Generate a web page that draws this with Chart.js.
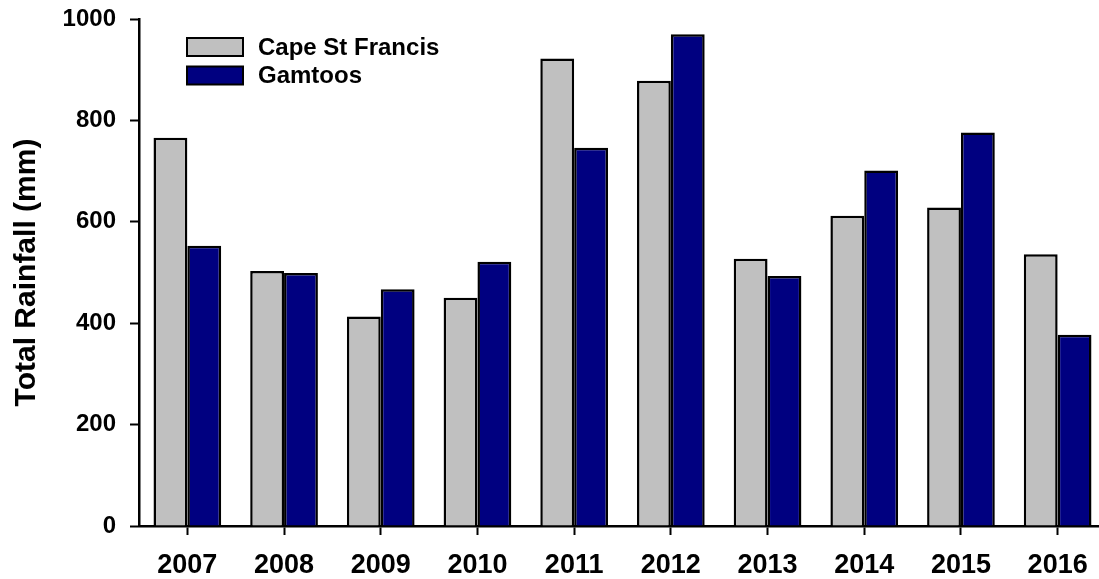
<!DOCTYPE html>
<html>
<head>
<meta charset="utf-8">
<script src="https://cdn.jsdelivr.net/npm/chart.js@4"></script>
<style>
  html, body { margin: 0; padding: 0; background: #fff; overflow: hidden; }
  #wrap { position: relative; width: 1106px; height: 579px; }
</style>
</head>
<body>
<div id="wrap"><canvas id="c"></canvas></div>
<script>
const years = ["2007","2008","2009","2010","2011","2012","2013","2014","2015","2016"];
const capeStFrancis = [766, 503, 413, 450, 922, 878, 527, 612, 628, 536];
const gamtoos = [553, 499, 467, 521, 746, 970, 493, 701, 776, 377];
const seriesNames = ["Cape St Francis", "Gamtoos"];
const yTicks = [0, 200, 400, 600, 800, 1000];

const FONT = "'Liberation Sans', Arial, sans-serif";

const legendPlugin = {
  id: 'insideLegend',
  afterDraw(chart) {
    const ctx = chart.ctx;
    ctx.save();
    const x0 = 187, bw = 56, bh = 18;
    const ys = [38, 66.5];
    chart.data.datasets.forEach((ds, i) => {
      ctx.fillStyle = ds.backgroundColor;
      ctx.fillRect(x0, ys[i], bw, bh);
      ctx.lineWidth = 2;
      ctx.strokeStyle = '#000';
      ctx.strokeRect(x0, ys[i], bw, bh);
      ctx.fillStyle = '#000';
      ctx.font = "bold 24px " + FONT;
      ctx.textBaseline = 'middle';
      ctx.textAlign = 'left';
      ctx.fillText(ds.label, 258, ys[i] + bh / 2 + 1);
    });
    ctx.restore();
  }
};

new Chart(document.getElementById('c'), {
  type: 'bar',
  data: {
    labels: years,
    datasets: [
      { label: seriesNames[0], data: capeStFrancis, backgroundColor: '#C0C0C0', borderColor: '#000', borderWidth: 2.5 },
      { label: seriesNames[1], data: gamtoos, backgroundColor: '#000080', borderColor: '#000', borderWidth: 2.5 }
    ]
  },
  options: {
    responsive: true,
    maintainAspectRatio: false,
    animation: false,
    devicePixelRatio: 1,
    layout: { padding: { top: 19, left: 0, right: 0, bottom: 0 } },
    plugins: { legend: { display: false }, tooltip: { enabled: false } },
    datasets: { bar: { categoryPercentage: 0.7, barPercentage: 1.0 } },
    scales: {
      x: {
        offset: true,
        grid: { display: true, drawOnChartArea: false, offset: false, tickLength: 9, tickWidth: 2, tickColor: '#000' },
        border: { display: true, color: '#000', width: 2.5 },
        ticks: { color: '#000', font: { family: FONT, size: 27, weight: 'bold' }, padding: 14, maxRotation: 0 },
        afterFit(scale) { scale.height = 53; scale.paddingLeft = 0; scale.paddingRight = 0; }
      },
      y: {
        min: 0, max: 1000,
        afterBuildTicks(scale) { scale.ticks = yTicks.map(v => ({ value: v })); },
        grid: { display: true, drawOnChartArea: false, tickLength: 9, tickWidth: 2, tickColor: '#000' },
        border: { display: true, color: '#000', width: 2.5 },
        ticks: { color: '#000', font: { family: FONT, size: 24, weight: 'bold' }, padding: 14, callback: v => String(v) },
        title: { display: true, text: 'Total Rainfall (mm)', color: '#000', font: { family: FONT, size: 30, weight: 'bold' }, padding: { top: 9, bottom: 0 } },
        afterFit(scale) { scale.width = 139; scale.paddingTop = 0; scale.paddingBottom = 0; }
      }
    }
  },
  plugins: [legendPlugin]
});
</script>
</body>
</html>
